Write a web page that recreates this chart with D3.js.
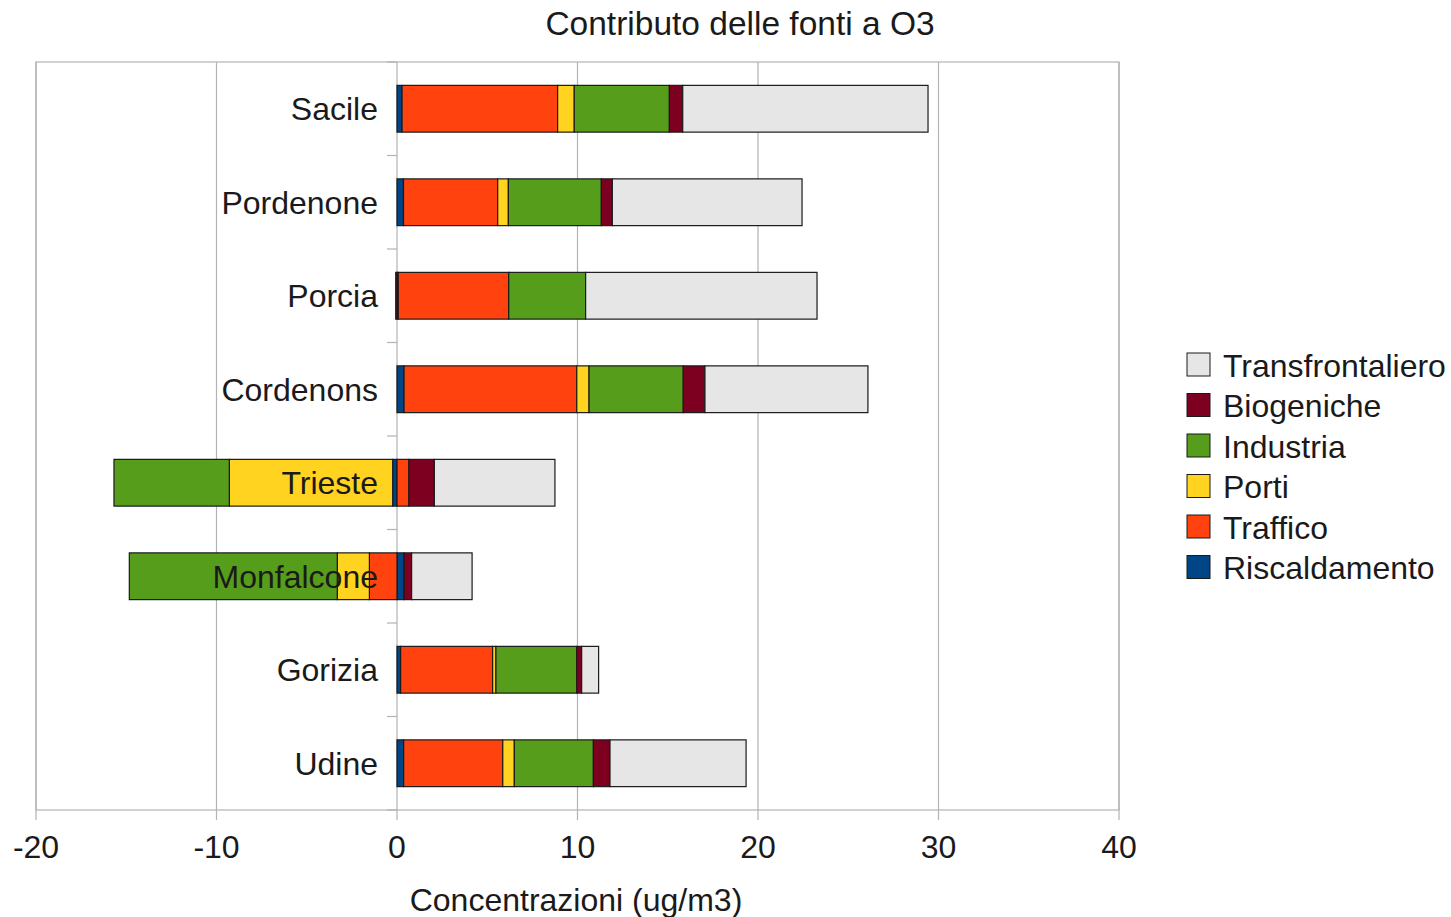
<!DOCTYPE html>
<html><head><meta charset="utf-8">
<script src="https://cdn.jsdelivr.net/npm/d3@7"></script>
<style>body{margin:0;background:#fff;} text{font-family:"Liberation Sans",Arial,sans-serif;fill:#1a1a1a;}</style>
</head><body>
<svg id="c" width="1451" height="917"></svg>
<script>
const categories = ["Sacile","Pordenone","Porcia","Cordenons","Trieste","Monfalcone","Gorizia","Udine"];
const seriesNames = ["Riscaldamento","Traffico","Porti","Industria","Biogeniche","Transfrontaliero"];
const seriesColors = ["#004586","#ff420e","#ffd320","#579d1c","#7e0021","#e6e6e6"];
const riscaldamento   = [0.28, 0.36, 0.07, 0.39, -0.24, 0.39, 0.20, 0.37];
const traffico        = [8.62, 5.22, 6.12, 9.57, 0.66, -1.53, 5.10, 5.49];
const porti           = [0.92, 0.59, 0.00, 0.68, -9.05, -1.78, 0.18, 0.64];
const industria       = [5.27, 5.15, 4.26, 5.22, -6.39, -11.52, 4.48, 4.38];
const biogeniche      = [0.74, 0.61, -0.07, 1.20, 1.41, 0.42, 0.27, 0.92];
const transfrontaliero= [13.59, 10.51, 12.82, 9.03, 6.68, 3.35, 0.94, 7.54];
const xTicks = [-20,-10,0,10,20,30,40];
const title = "Contributo delle fonti a O3";
const xTitle = "Concentrazioni (ug/m3)";

const seriesVals = [riscaldamento, traffico, porti, industria, biogeniche, transfrontaliero];
const svg = d3.select("#c");
const L = 36, R = 1119, T = 62, B = 810;
const x = d3.scaleLinear().domain([-20,40]).range([L,R]);
const y = d3.scaleBand().domain(categories).range([T,B]).paddingInner(0.5).paddingOuter(0.25);
const yb = d3.scaleBand().domain(categories).range([T,B]);

// frame + grid
svg.append("rect").attr("x",L).attr("y",T).attr("width",R-L).attr("height",B-T)
  .attr("fill","none").attr("stroke","#b3b3b3").attr("stroke-width",1.2);
svg.append("g").selectAll("line").data(xTicks).join("line")
  .attr("x1",d=>x(d)).attr("x2",d=>x(d)).attr("y1",T).attr("y2",B+10)
  .attr("stroke","#b3b3b3").attr("stroke-width",1.2);
// y ticks at band boundaries
const bounds = categories.map(c=>yb(c)).concat([B]);
svg.append("g").selectAll("line").data(bounds).join("line")
  .attr("x1",x(0)-10).attr("x2",x(0)).attr("y1",d=>d).attr("y2",d=>d)
  .attr("stroke","#b3b3b3").attr("stroke-width",1.2);

// stacking (positive and negative separately, in series order)
const segs = [];
categories.forEach((c,i)=>{
  let pos=0, neg=0;
  seriesVals.forEach((arr,s)=>{
    const v = arr[i];
    if (v===0) return;
    if (v>0){ segs.push({c,s,x0:pos,x1:pos+v}); pos+=v; }
    else { segs.push({c,s,x0:neg+v,x1:neg}); neg+=v; }
  });
});
svg.append("g").selectAll("rect").data(segs).join("rect")
  .attr("x",d=>x(d.x0)).attr("width",d=>x(d.x1)-x(d.x0))
  .attr("y",d=>y(d.c)).attr("height",y.bandwidth())
  .attr("fill",d=>seriesColors[d.s]).attr("stroke","#1a1a1a").attr("stroke-width",1.2);

// category labels
svg.append("g").selectAll("text").data(categories).join("text")
  .attr("x",x(0)-19).attr("y",d=>y(d)+y.bandwidth()/2).attr("dy","0.36em")
  .attr("text-anchor","end").style("font-size","32px").text(d=>d);

// x tick labels
svg.append("g").selectAll("text").data(xTicks).join("text")
  .attr("x",d=>x(d)).attr("y",858).attr("text-anchor","middle")
  .style("font-size","32px").text(d=>d);

svg.append("text").attr("x",740).attr("y",35).attr("text-anchor","middle").style("font-size","33.5px").text(title);
svg.append("text").attr("x",576).attr("y",911).attr("text-anchor","middle").style("font-size","32px").text(xTitle);

// legend (reverse order)
const leg = svg.append("g");
const legItems = seriesNames.map((n,i)=>({n,i})).reverse();
leg.selectAll("rect").data(legItems).join("rect")
  .attr("x",1187).attr("y",(d,k)=>353+k*40.5).attr("width",23).attr("height",23)
  .attr("fill",d=>seriesColors[d.i]).attr("stroke","#1a1a1a").attr("stroke-width",1);
leg.selectAll("text").data(legItems).join("text")
  .attr("x",1223).attr("y",(d,k)=>365+k*40.5).attr("dy","0.36em")
  .style("font-size","32px").text(d=>d.n);
</script>
</body></html>
